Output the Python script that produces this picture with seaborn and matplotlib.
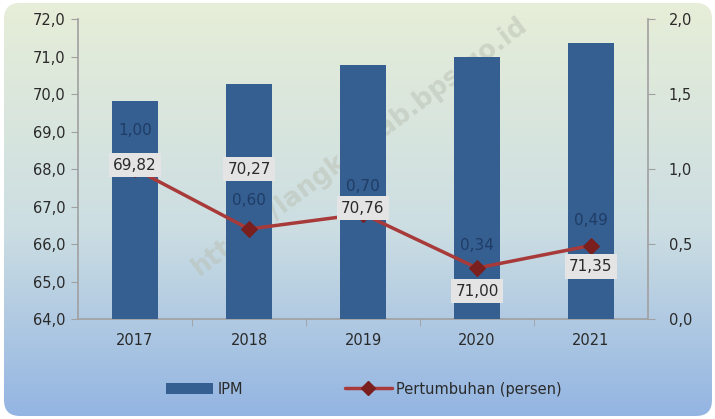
import numpy as np
import pandas as pd
import matplotlib
matplotlib.use("Agg")
import matplotlib.pyplot as plt
import seaborn as sns
from matplotlib.patches import FancyBboxPatch
from matplotlib.ticker import FuncFormatter, FixedLocator
from matplotlib.lines import Line2D
from matplotlib.patches import Patch

years = ["2017", "2018", "2019", "2020", "2021"]
ipm = [69.82, 70.27, 70.76, 71.00, 71.35]
growth = [1.00, 0.60, 0.70, 0.34, 0.49]

# label offsets (pixels) relative to the growth points
ipm_label_dy = [4, 60, 6, -23, -21]
growth_label_dy = [39, 29, 28, 23, 25]

bar_color = "#355e91"
line_color = "#a83a3a"
marker_color = "#7a1e1e"
text_color = "#2a2a2a"

sns.set_style("white")
plt.rcParams["font.family"] = ["DejaVu Sans"]

fig = plt.figure(figsize=(7.15, 4.19), dpi=100)
fig.patch.set_facecolor("white")

# background panel with vertical gradient
bg = fig.add_axes([0, 0, 1, 1])
bg.set_xlim(0, 715)
bg.set_ylim(419, 0)
bg.axis("off")
top = np.array([0.905, 0.933, 0.847])
mid = np.array([0.80, 0.87, 0.89])
bot = np.array([0.58, 0.71, 0.89])
t = np.linspace(0, 1, 256)[:, None]
grad = np.where(t < 0.55, top + (mid - top) * (t / 0.55), mid + (bot - mid) * ((t - 0.55) / 0.45))
img = bg.imshow(grad[:, None, :].repeat(2, axis=1), extent=[4, 712, 416, 3], aspect="auto")
box = FancyBboxPatch((4, 3), 708, 413, boxstyle="round,pad=0,rounding_size=16",
                     facecolor="none", edgecolor="none", transform=bg.transData)
bg.add_patch(box)
img.set_clip_path(box)

# watermark (sits behind the bars)
bg.text(360, 146, "https://langkatkab.bps.go.id", rotation=37, fontsize=18.5,
        fontweight="bold", color="#b9bfb2", alpha=0.5, ha="center", va="center",
        zorder=1)

df = pd.DataFrame({"Tahun": years, "IPM": ipm, "Pertumbuhan": growth})
df["pos"] = range(len(years))

ax = fig.add_axes([78 / 715, 1 - 319 / 419, (648 - 78) / 715, (319 - 19) / 419])
ax.patch.set_alpha(0)
sns.barplot(data=df, x="Tahun", y="IPM", color=bar_color, width=0.4,
            saturation=1, linewidth=0, ax=ax, zorder=3)
ax.set_ylim(64, 72)
ax.set_xlim(-0.5, 4.5)
ax.set_yticks(np.arange(64, 72.1, 1))
comma = FuncFormatter(lambda v, p: f"{v:.1f}".replace(".", ","))
ax.yaxis.set_major_formatter(comma)
ax.set_xlabel("")
ax.set_ylabel("")

ax2 = ax.twinx()
sns.lineplot(data=df, x="pos", y="Pertumbuhan", color=line_color, linewidth=2.5,
             marker="D", markersize=8, markerfacecolor=marker_color,
             markeredgecolor=marker_color, ax=ax2, zorder=4)
ax2.set_ylim(0, 2.0)
ax2.set_xlim(-0.5, 4.5)
ax2.set_yticks(np.arange(0, 2.01, 0.5))
ax2.yaxis.set_major_formatter(comma)
ax2.set_ylabel("")
ax2.set_xlabel("")

for a in (ax, ax2):
    a.spines["top"].set_visible(False)
    for s in ("left", "right", "bottom"):
        a.spines[s].set_color("#a0a0a0")
        a.spines[s].set_linewidth(1.2)
ax.spines["right"].set_visible(False)
ax2.spines["left"].set_visible(False)
ax2.spines["bottom"].set_visible(False)

ax.tick_params(axis="y", direction="out", length=5, color="#a0a0a0", labelsize=10.5,
               labelcolor=text_color, pad=4, left=True)
ax2.tick_params(axis="y", direction="out", length=5, color="#a0a0a0", labelsize=10.5,
                labelcolor=text_color, pad=10, right=True)
ax.set_xticks(range(len(years)))
ax.set_xticklabels(years, fontsize=10.5, color=text_color)
ax.tick_params(axis="x", length=0, pad=10)
ax.xaxis.set_minor_locator(FixedLocator(np.arange(0.5, 4.5, 1)))
ax.tick_params(axis="x", which="minor", direction="out", length=5, color="#a0a0a0", bottom=True)

for i in range(len(years)):
    ax2.annotate(f"{ipm[i]:.2f}".replace(".", ","), (i, growth[i]),
                 xytext=(0, ipm_label_dy[i]), textcoords="offset pixels",
                 ha="center", va="center", fontsize=11, color=text_color, zorder=6,
                 bbox=dict(boxstyle="square,pad=0.3", facecolor="#e4e4e4", edgecolor="none"))
    ax2.annotate(f"{growth[i]:.2f}".replace(".", ","), (i, growth[i]),
                 xytext=(0, growth_label_dy[i]), textcoords="offset pixels",
                 ha="center", va="center", fontsize=11, color="#1f3d66", zorder=6)

handles = [Patch(facecolor=bar_color, edgecolor="none"),
           Line2D([0], [0], color=line_color, linewidth=2.5, marker="D", markersize=7,
                  markerfacecolor=marker_color, markeredgecolor=marker_color)]
fig.legend(handles, ["IPM", "Pertumbuhan (persen)"], loc="center",
           bbox_to_anchor=(364 / 715, 1 - 389 / 419), ncol=2, frameon=False,
           fontsize=10.5, handlelength=3.2, columnspacing=7, handletextpad=0.3,
           labelcolor=text_color)

fig.savefig("out.png", dpi=100)
